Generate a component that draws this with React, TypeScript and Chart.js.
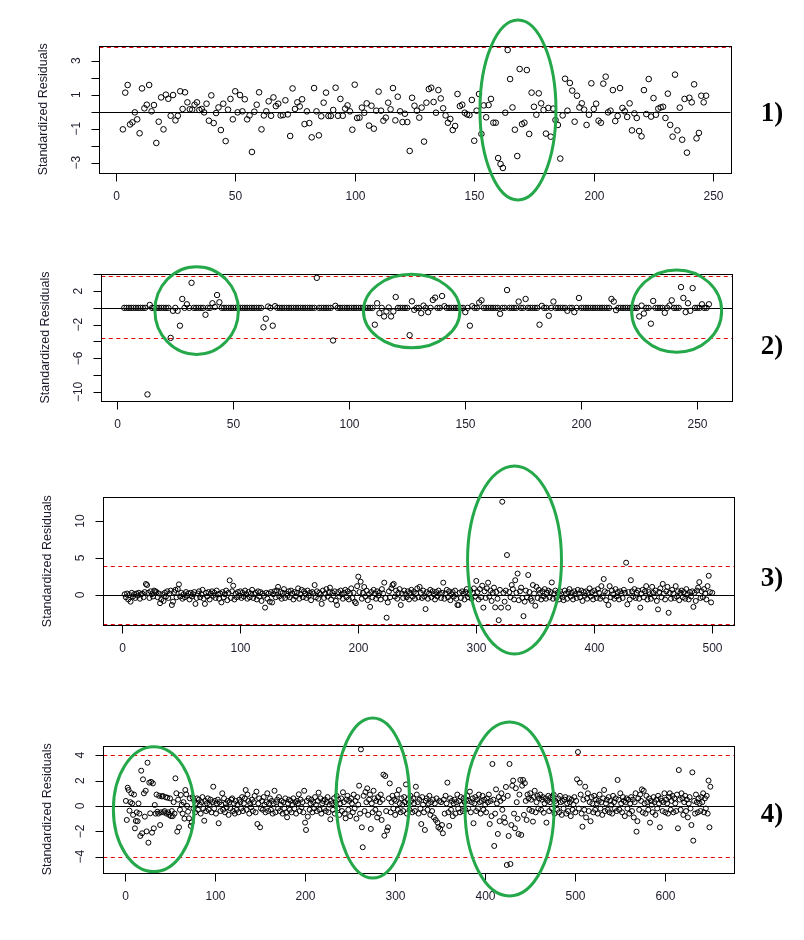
import React, { useEffect, useRef } from 'react';
import { Chart, registerables } from 'chart.js';
Chart.register(...registerables);

// ---------------- DATA ----------------
// Panel 1: standardized residuals, index starts at 3
const P1_START = 3;
const P1_Y = [
  -1.04, 1.12, 1.57, -0.75, -0.63, -0.04, -0.45, -1.27, 1.37, 0.2,
  0.41, 1.57, 0.02, 0.39, -1.84, -0.59, 0.84, -1.04, 1.0, 0.76,
  -0.24, 0.98, -0.51, -0.24, 1.2, 0.16, 1.14, 0.55, 0.14, 0.12,
  0.41, 0.55, 0.1, 0.16, -0.04, 0.47, -0.53, 0.96, -0.67, -0.08,
  0.25, -1.08, 0.47, -1.73, 0.12, 0.75, -0.45, 1.2, -0.04, 0.98,
  0.02, 0.73, -0.45, -0.22, -2.37, 0, 0.41, 1.14, -1.04, -0.22,
  0.02, 0.61, -0.24, 0.84, 0.33, 0.47, -0.22, -0.2, 0.67, -0.16,
  -1.43, 1.37, 0.16, 0.55, 0.31, 0.73, -0.73, 0.02, -0.67, -1.51,
  1.39, 0.02, -1.39, -0.27,
  0.53, 1.12, -0.25, -0.25, 0.1, 1.41, -0.24, 0.75, -0.24, 0.18,
  0.37, 0.02, -1.06, 1.59, -0.37, -0.35, 0.24, -0.06, 0.49, -0.82,
  0.35, -1.0, 0.06, 1.18, 0.06, -0.53, -0.35, 0.53, 0.14, 1.39,
  -0.51, 0.88, 0.02, -0.61, -0.12, -0.61, -2.31, 0.82, 0.35, 0.06,
  -0.35, 0.24, -1.76, 0.53, 1.33, 1.41, 0.57, -0.06, 1.27, 0.78,
  0.2, -0.22, -0.65, -0.43, -1.08, -0.84, 1.04, 0.33, 0.41, -0.06,
  -0.16, -0.2, 0.69, -1.71, 0.06, 1.04, -1.31, 0.37, -0.33, 0.39,
  0.75, -0.65, -0.65, -2.73, -3.08, -3.31, -0.06, 3.63, 1.92, 0.25,
  -1.06, -2.61, 2.51, -0.73, -0.65,
  2.45, -1.31, 1.12, 0.29, -0.18, 1.08, 0.49, 0.1, -1.29, 0.22,
  -1.47, 0.18, -0.49, -0.78, -2.76, -0.22, 1.94, 0.06, 1.69, 1.24,
  -0.59, 0.94, 0.25, 0.49, 0.12, -0.78, -0.18, 1.67, 0.16, 0.47,
  -0.53, -0.65, 1.65, 2.06, -0.04, 0.06, 1.27, -0.55, -0.25, 1.39,
  0.22, 0.02, -0.31, 0.49, -1.1, -0.1, -0.37, -1.14, -1.45, 1.27,
  -0.14, 1.92, -0.29, 0.8, -0.18, 0.18, 0.25, 0.29, -0.37, 1.06,
  -0.78, -1.47, 2.18, -1.1, 0.24, -1.65, 0.75, -2.41, 0.82, 0.55,
  1.61, -1.57, -1.25, 0.94, 0.55, 0.94,
];

// Panel 2: index starts at 3
const P2_START = 3;
const P2_Y = [
  0, 0, 0, 0, 0, 0, 0, 0, 0, 0,
  -10.3, 0.35, 0, 0, 0, 0, 0, 0, 0, 0,
  -3.57, -0.35, 0, -0.35, -2.12, 1.06, 0, 0.43, 0, 2.98,
  0, 0, 0, 0, 0, -0.82, 0, 0, 0.55, 0.1,
  1.53, 0.67, 0, 0, 0, 0, 0, 0, 0, 0,
  0, 0, 0, 0, 0, 0, 0, 0, 0, 0,
  -2.31, -1.29, 0.16, 0, -2.12, 0.2, 0, 0, 0, 0,
  0, 0, 0, 0, 0, 0, 0, 0, 0, 0,
  0, 0, 0, 3.57, 0, 0, 0, 0, 0, 0,
  -3.88, 0.24, 0, 0, 0, 0, 0, 0, 0, 0,
  0, 0, 0, 0, 0, 0, 0, 0, -2.0, 0.55,
  -0.63, 0, -1.02, -0.43, 0.04, -1.02, -0.43, 1.29, 0, 0,
  0, 0, 0, -3.25, 0.78, -0.24, 0, 0, -0.63, 0.27,
  0, -0.51, 0, 0.94, 1.22, 0, 0, 1.41, 0.2, 0,
  0, 0, 0, 0, 0, 0, 0, -0.51, 0, -2.12,
  0.2, 0, 0, 0.63, 0.9, 0, 0, 0, 0, 0,
  0, 0, -0.71, 0, 0, 2.12, 0, 0, 0, 0,
  0.75, 0, 0, 1.06, 0, 0, 0, 0, 0, -2.0,
  0.24, 0, 0, -0.94, 0, 0.75, 0, 0, 0, 0,
  0, -0.35, 0, 0, -0.51, 0, 1.18, 0, 0, 0,
  0, 0, 0, 0, 0, 0, 0, 0, 0, 0,
  1.06, 0.75, -0.27, 0, 0, 0, 0, 0, 0, 0,
  0, 0, -1.02, 0.27, -0.67, 0, 0, -1.88, 0.82, 0,
  0, 0, 0, -0.59, 0, 0.27, 0.9, 0, 0, 0,
  2.47, 1.18, -0.51, 0.55, -0.35, 2.35, 0, 0, 0, 0.43,
  0, 0, 0.43,
];

// Panel 3: index starts at 2
const P3_START = 2;
const P3_Y = [
  0.1, -0.3, 0.2, -0.6, 0.0, -0.9, 0.3, -0.2, 0.1, -0.4, 0.2, -0.1, 0.3, -0.5, 0.1, 0.2, -0.3, 0.4, 1.49, 1.35,
  0.3, -0.4, 0.5, 0.1, -0.2, 0.6, 0.5, 0.4, -0.3, 0.2, -1.1, -0.6, 0.1, -0.8, 0.3, -0.2, 0.5, -0.4, 0.2, 0.6,
  -1.35, -0.9, 0.4, 0.7, -0.3, 0.8, 1.44, -0.2, 0.3, -0.5, 0.1, -0.3, 0.4, -0.1, 0.2, -0.6, 0.3, -0.2, 0.1, 0.4,
  -1.2, -0.4, 0.2, 0.5, -0.3, 0.1, 0.7, -0.5, -1.2, 0.3, -0.2, 0.4, -0.6, 0.2, 0.5, -0.1, 0.3, -0.4, 0.6, 0.1,
  -0.5, 0.2, -1.0, 0.4, -0.3, 0.1, 0.6, -0.7, 0.3, 1.98, -0.4, 0.5, 1.26, -0.6, 0.2, -0.3, 0.4, -0.1, 0.5, -0.4,
  0.3, -0.2, 0.6, 0.1, -0.5, 0.4, -0.3, 0.2, 0.7, -0.4, 0.1, 0.3, -0.6, 0.5, -0.2, 0.4, -0.8, 0.2, -0.1, -1.7,
  0.3, -0.5, 0.2, -0.9, 0.4, -1.0, 0.1, 0.5, -0.3, 0.6, 1.1, -0.2, 0.4, -0.5, 0.3, 0.8, -0.4, 0.2, -0.1, 0.5,
  -0.3, 0.6, 0.2, -0.6, 0.4, -0.2, 0.3, 0.9, -0.5, 0.1, 0.7, -0.3, 0.5, 0.2, -0.4, 0.6, -0.1, 0.3, -0.7, 0.4,
  0.2, 1.35, -0.3, 0.5, -0.5, 0.3, 0.1, -1.2, 0.6, -0.4, 0.2, 0.8, -0.2, 0.4, 1.0, -0.6, 0.3, -0.1, 0.5, -0.8,
  -1.35, 0.4, -0.2, 0.6, 0.1, -0.5, 0.3, 0.7, -0.3, 0.5, -0.6, 0.2, 0.9, -0.4, 0.3, -0.9, -1.1, 1.2, 2.48, 0.4,
  1.8, -0.5, 0.3, 1.08, -0.2, 0.6, -0.7, 0.1, -1.6, 0.4, -0.3, 0.7, 0.2, -0.5, 0.5, -0.1, 0.3, -0.6, 0.8, 0.2,
  1.67, -0.4, -3.06, -1.0, 0.5, -0.3, 0.9, 1.35, 1.5, -0.2, 0.6, -0.5, 0.3, 0.8, -1.35, 0.2, -0.4, 0.6, 0.1, -0.3,
  0.5, -0.6, 0.3, 0.7, -0.2, 0.4, -0.5, 0.2, 0.9, -0.3, 1.1, 0.3, -0.4, 0.6, -0.2, -1.9, 0.4, -0.5, 0.2, 0.7,
  -0.3, 0.5, 0.1, -0.6, 0.4, -0.2, 0.6, 0.2, -0.4, 0.3, 1.67, -0.5, 0.2, 0.7, -0.3, 0.5, -0.7, 0.1, 0.4, -0.2,
  0.6, -0.5, -1.35, -1.35, 0.3, -0.4, 0.5, 0.2, -0.6, 0.4, 0.8, -0.3, 0.1, 0.6, -0.5, 0.3, 0.9, -0.2, 1.9, 0.4,
  -0.6, 0.8, -0.3, 1.26, -1.7, 0.5, -0.4, 0.9, 1.67, -0.2, 0.6, -0.8, 0.3, 1.0, -1.67, 0.4, -0.5, -3.4, 0.7, -1.7,
  12.6, 0.3, -0.9, 0.6, 5.4, -1.7, 0.4, -0.3, 1.35, 0.8, -0.6, 2.0, 0.3, 2.9, -0.7, 0.5, 1.0, -0.4, -2.85, -0.9,
  0.6, -0.3, 2.7, 0.4, -0.5, -0.8, 1.35, 0.2, -1.45, 1.1, -0.4, 0.7, 0.3, -0.6, 0.5, -0.2, 0.8, -0.5, 0.3, 0.6,
  -0.3, 0.4, 1.7, -0.5, 0.2, 0.6, -0.4, 0.3, -0.6, 0.5, 0.1, -0.3, -0.7, 0.6, 0.2, -0.5, 0.4, 0.8, -0.2, 0.3,
  -0.6, 0.5, 0.1, -0.4, 0.7, 0.2, -0.3, 0.6, -0.8, 0.4, -0.1, 0.5, -0.5, 0.3, 0.9, -0.2, 0.4, -0.6, 0.6, 0.1,
  -0.4, 0.8, 0.3, -0.5, 1.2, -0.2, 2.16, 0.5, -0.7, 0.3, -1.35, 1.2, -0.3, 0.6, 0.1, -0.5, 0.8, -0.2, 0.4, -0.6,
  0.5, 0.2, -0.4, 0.7, 0.3, 4.37, -1.26, 0.4, -0.6, 2.0, 0.5, -0.2, 0.8, -0.4, 0.3, 0.6, -0.5, -1.7, 0.2, 0.7,
  -0.3, 0.5, 1.2, -0.6, 0.4, 0.1, -0.5, 1.1, 0.3, -0.2, 0.6, -0.8, -1.94, 0.4, 0.9, -0.3, 1.5, 0.2, -0.6, 0.5,
  1.1, -2.4, 0.3, -0.5, 0.7, 0.2, -0.4, 1.2, -0.2, 0.5, -0.7, 0.3, 0.6, -0.3, 0.4, -0.5, 0.8, 0.1, -0.6, 0.4,
  -0.2, 0.5, -1.6, 0.3, -0.8, 0.6, 1.0, 1.75, -0.4, 0.5, -0.3, 0.8, 0.2, -0.6, 1.2, 2.6, 0.4, -1.0, 0.3,
];

// Panel 4: index starts at 1
const P4_START = 1;
const P4_Y = [
  0.4, -1.1, 1.44, 1.26, -0.37, 0.3, 1.0, 0.2, -0.7, 0.9, -1.76, -1.18, -0.5, -1.2, 0.2, -0.6, -2.36, 2.78, -2.15, 2.1,
  1.0, -0.84, 1.2, -2.0, 3.41, -2.89, 1.84, -0.58, 1.9, -2.1, 1.78, -1.76, 0.08, -0.6, 0.9, -0.45, -0.6, 0.8, -1.5, -0.5,
  0.75, 0.79, -0.5, -0.4, 0.7, -0.6, 0.65, -0.5, -0.7, 0.6, -0.8, -0.4, -0.8, 0.3, -0.6, 2.18, 1.0, -2.02, 0.5, -1.68,
  -0.3, 0.87, 0.1, -0.6, 0.3, -1.0, 1.26, 0.92, 0.0, -0.45, -0.97, 0.6, -1.57, -1.31, 0.7, -0.2, 0.4, -0.5, 0.2, 0.6,
  -0.3, 0.5, 0.1, -0.6, 0.3, 0.7, -0.2, -1.16, 0.4, -0.4, 0.2, 0.6, -0.3, 0.1, 0.5, -0.5, 0.3, 1.52, -0.2, 0.4,
  -0.6, 0.2, 0.5, -1.36, 0.3, -0.4, 0.1, 1.0, -0.3, 0.6, -0.5, 0.2, -0.1, 0.4, -0.7, 0.3, -0.2, 0.5, 0.6, -0.4,
  0.2, -0.6, 0.4, -0.3, 0.1, -0.5, 0.5, 0.3, -0.2, 0.7, -0.4, 0.2, 0.6, 1.26, -0.3, 0.9, 0.4, -0.6, 0.2, -0.1,
  0.5, -0.4, 0.3, 0.8, -0.5, 1.13, -1.42, 0.2, 0.6, -1.68, -0.2, 0.4, -0.3, 0.7, 0.1, -0.5, 0.3, 1.0, -0.4, 0.2,
  0.6, -0.3, 0.4, -0.6, 0.2, 1.2, -0.5, 0.3, 0.5, -0.2, 0.7, -0.4, 0.1, 0.4, -0.6, 0.3, -0.2, 0.6, -0.5, -0.89,
  0.2, 0.5, -0.3, 0.4, -0.5, 0.1, 0.6, -0.2, 0.3, -0.6, 0.4, 0.2, 0.92, -0.4, 0.5, -0.1, 0.3, -0.5, 1.2, -1.31,
  -1.89, 0.4, -0.84, 0.6, -0.3, 0.2, 0.5, -0.5, 0.3, -0.2, 0.7, 0.1, -0.4, 0.4, 1.05, -0.3, 0.6, -0.6, 0.2, 0.4,
  -0.2, 0.5, -0.4, 0.3, 0.7, -0.5, 0.1, -1.05, 0.4, 0.2, -0.3, 0.6, -0.6, 0.3, 0.8, -0.2, 0.5, -0.7, 0.2, 0.6,
  -0.4, 1.08, 0.3, -0.6, -0.97, 0.5, 0.8, -0.3, 0.4, -0.8, 0.6, 0.2, -0.5, 0.9, -0.2, 0.4, -1.0, 0.7, 0.1, 1.6,
  -0.6, 4.46, -1.68, -3.25, 0.8, -0.4, 1.1, 0.3, 1.39, -0.7, 0.5, 0.9, -1.81, 0.2, -0.5, 1.2, 0.6, -0.3, 0.4, -0.9,
  0.7, -0.6, 0.3, 0.9, -1.1, 0.5, 2.47, -2.34, 2.36, -0.4, -1.94, -1.68, 0.6, 1.78, -0.5, 0.3, 0.8, -0.2, 0.5, -0.7,
  0.4, 0.9, -0.3, 1.26, 0.2, -0.5, 0.6, 0.1, -0.4, 0.7, 0.3, 1.7, -0.6, 0.5, 0.2, -0.3, 0.8, 0.4, -0.5, 0.6,
  0.2, -0.4, 1.52, 0.9, 0.3, -0.6, 0.5, -0.2, -1.42, 0.7, 0.1, -0.5, -1.89, 0.4, 0.6, -0.3, 0.2, 0.8, -0.7, 0.3,
  -0.4, 0.5, -0.9, 0.2, -1.1, 0.6, -1.3, -1.68, 0.4, -1.8, 0.3, -1.5, -2.15, 0.5, -0.6, 0.8, 0.2, 1.84, -0.5, -1.57,
  0.6, -0.3, 0.4, -0.8, 0.2, 0.5, -0.6, 0.3, 0.9, -0.2, 0.4, -0.5, 0.7, 0.1, -0.4, 0.6, 0.3, -0.3, 0.5, 0.8,
  -0.2, 0.4, 1.13, -0.5, 0.3, 0.6, -1.36, 0.2, 0.7, -0.4, 0.5, -0.2, 0.9, 0.3, -0.6, 0.4, 0.8, -0.3, 0.5, 0.1,
  -0.5, 0.6, 0.3, 0.9, -1.42, 0.4, -0.8, 3.31, 0.5, -3.15, -0.6, 1.31, 0.2, -2.2, 0.7, -1.2, 0.4, 1.0, -0.3, 0.6,
  -0.9, -1.31, 1.5, -4.65, 0.8, -2.36, 3.31, -4.57, -1.5, 1.6, 2.0, -0.6, -1.76, 1.4, 0.3, -1.0, -2.2, 0.9, 2.05, -2.28,
  1.6, 2.05, -0.7, 1.8, 0.4, -1.1, 0.9, 0.6, -0.3, 1.0, 0.5, -0.4, -1.23, 0.7, 1.2, -0.5, 0.3, 0.8, -0.2, 0.6,
  0.9, -0.3, 0.5, 0.7, -0.53, 0.2, 0.6, -1.31, 0.4, 0.8, -0.4, 0.3, 0.7, -0.2, 0.5, 0.9, -0.6, 0.4, 0.2, -0.3,
  0.6, -0.5, 0.8, 0.3, -0.7, 0.4, -0.2, 0.5, 0.7, -0.6, 0.2, -0.4, 0.6, 0.3, -0.8, 0.5, -0.3, 0.1, 0.7, -0.5,
  0.4, 2.1, 4.25, -0.2, 1.84, 0.9, -0.6, -1.63, 0.5, -0.3, 1.52, -0.9, 0.6, 1.0, -0.4, 0.3, -1.2, 0.7, 0.2, -0.5,
  0.8, -0.3, 0.5, 0.2, -0.6, 0.4, 0.9, -0.2, 0.3, -0.7, 0.6, 1.26, -0.4, 0.2, 0.5, -0.3, 0.7, -0.5, 0.4, 0.1,
  -0.6, 0.8, 0.3, -0.2, 0.6, -0.4, 2.05, 0.5, -0.3, 1.0, 0.2, -0.5, 0.7, 0.4, -0.8, 0.3, 0.6, -0.2, 0.5, -0.6,
  0.2, 0.7, -0.4, 0.5, -0.9, 0.3, 1.0, -2.02, -1.2, 0.6, -0.3, 0.9, 0.4, 1.31, -0.5, 1.2, 0.2, -0.6, 0.8, 0.3,
  -0.3, 0.6, -1.31, 0.4, 0.1, -0.5, 0.7, 0.3, -0.7, 0.5, -0.2, 0.8, 0.2, -1.68, 0.6, 0.4, -0.4, 0.3, 1.0, -0.5,
  0.5, 0.2, -0.6, 0.7, 1.0, -0.3, 0.4, 0.8, -0.5, 0.6, 0.2, -0.4, 0.9, -1.76, 2.83, 0.5, -0.3, 1.0, 0.6, -0.7,
  0.3, 0.8, -0.4, 0.5, -0.9, 0.2, 0.7, -0.2, -1.5, 2.65, -2.73, 0.4, -0.6, 0.9, 0.3, -0.5, 0.6, 0.2, -0.4, 0.7,
  0.3, 1.0, -0.5, 0.6, -0.2, 0.8, -0.6, 2.0, -1.68, 1.52,
];

// Tick values
const P1_XTICKS = [0, 50, 100, 150, 200, 250];
const P1_YTICKS = [-3, -2, -1, 0, 1, 2, 3];
const P1_YLABELS = [-3, -1, 1, 3];
const P2_XTICKS = [0, 50, 100, 150, 200, 250];
const P2_YTICKS = [-10, -8, -6, -4, -2, 0, 2, 4];
const P2_YLABELS = [-10, -6, -2, 2];
const P3_XTICKS = [0, 100, 200, 300, 400, 500];
const P3_YTICKS = [0, 5, 10];
const P3_YLABELS = [0, 5, 10];
const P4_XTICKS = [0, 100, 200, 300, 400, 500, 600];
const P4_YTICKS = [-4, -2, 0, 2, 4];
const P4_YLABELS = [-4, -2, 0, 2, 4];

// Reference lines (red dashed bounds)
const P1_BOUNDS = [3.82, -3.82];
const P2_BOUNDS = [3.79, -3.6];
const P3_BOUNDS = [3.94, -3.94];
const P4_BOUNDS = [4, -4];

// Highlight ellipses in data units: [cx, cy, rx, ry]
const P1_ELLIPSES = [[168.3, 0.1, 15.9, 5.29]];
const P2_ELLIPSES = [[34.2, -0.32, 18.0, 5.22], [126.9, -0.38, 20.8, 4.37], [241.1, -0.38, 19.4, 4.89]];
const P3_ELLIPSES = [[332.4, 4.73, 39.8, 12.7]];
const P4_ELLIPSES = [[31.9, -0.25, 44.8, 4.92], [275.1, 0.63, 40.8, 6.3], [427, -0.24, 49.4, 6.85]];

const PANEL_LABELS = ['1)', '2)', '3)', '4)'];
const Y_TITLE = 'Standardized Residuals';

// ---------------- LAYOUT ----------------
const W = 804;
const H = 940;
const TEXT = '#1c1c2c';
const GREEN = '#25a84a';
const RED = '#e60000';

type Panel = {
  start: number; ys: number[];
  area: { l: number; r: number; t: number; b: number };
  xr: [number, number]; yr: [number, number];
  xTicks: number[]; yTicks: number[]; yLabels: number[];
  bounds: number[]; ellipses: number[][];
  label: string; labelPos: [number, number]; radius: number;
};

const PANELS: Panel[] = [
  { start: P1_START, ys: P1_Y, area: { l: 99.3, r: 730.7, t: 46, b: 172.7 }, xr: [-6.86, 257.3], yr: [-3.59, 3.865],
    xTicks: P1_XTICKS, yTicks: P1_YTICKS, yLabels: P1_YLABELS, bounds: P1_BOUNDS, ellipses: P1_ELLIPSES,
    label: PANEL_LABELS[0], labelPos: [772, 114], radius: 2.8 },
  { start: P2_START, ys: P2_Y, area: { l: 101.3, r: 732.3, t: 274, b: 401 }, xr: [-6.9, 265.1], yr: [-11.08, 4.03],
    xTicks: P2_XTICKS, yTicks: P2_YTICKS, yLabels: P2_YLABELS, bounds: P2_BOUNDS, ellipses: P2_ELLIPSES,
    label: PANEL_LABELS[1], labelPos: [772, 347], radius: 2.7 },
  { start: P3_START, ys: P3_Y, area: { l: 103.3, r: 734, t: 497.3, b: 625 }, xr: [-16.1, 518.4], yr: [-4.05, 13.2],
    xTicks: P3_XTICKS, yTicks: P3_YTICKS, yLabels: P3_YLABELS, bounds: P3_BOUNDS, ellipses: P3_ELLIPSES,
    label: PANEL_LABELS[2], labelPos: [772, 579], radius: 2.5 },
  { start: P4_START, ys: P4_Y, area: { l: 103.3, r: 734.3, t: 745.7, b: 873 }, xr: [-24.1, 676.6], yr: [-5.28, 4.75],
    xTicks: P4_XTICKS, yTicks: P4_YTICKS, yLabels: P4_YLABELS, bounds: P4_BOUNDS, ellipses: P4_ELLIPSES,
    label: PANEL_LABELS[3], labelPos: [772, 815], radius: 2.5 },
];

const fmt = (v: number) => (v < 0 ? '\u2212' + Math.abs(v) : String(v));

function makePlugin(p: Panel) {
  return {
    id: 'rPanel',
    beforeDatasetsDraw(chart: any) {
      const { ctx, chartArea: a, scales } = chart;
      const y = scales.y;
      ctx.save();
      ctx.beginPath();
      ctx.rect(a.left, a.top, a.right - a.left, a.bottom - a.top);
      ctx.clip();
      // zero line
      const y0 = Math.round(y.getPixelForValue(0)) + 0.5;
      ctx.strokeStyle = '#000';
      ctx.lineWidth = 1;
      ctx.beginPath();
      ctx.moveTo(a.left, y0);
      ctx.lineTo(a.right, y0);
      ctx.stroke();
      // bounds
      ctx.strokeStyle = RED;
      ctx.setLineDash([4, 3.5]);
      p.bounds.forEach((v) => {
        const py = Math.round(y.getPixelForValue(v)) + 0.5;
        ctx.beginPath();
        ctx.moveTo(a.left, py);
        ctx.lineTo(a.right, py);
        ctx.stroke();
      });
      ctx.restore();
    },
    afterDraw(chart: any) {
      const { ctx, chartArea: a, scales } = chart;
      const x = scales.x;
      const y = scales.y;
      ctx.save();
      ctx.strokeStyle = '#000';
      ctx.lineWidth = 1;
      // box
      const L = Math.round(a.left) + 0.5, R = Math.round(a.right) + 0.5;
      const T = Math.round(a.top) + 0.5, B = Math.round(a.bottom) + 0.5;
      ctx.strokeRect(L, T, R - L, B - T);
      ctx.fillStyle = TEXT;
      ctx.font = '12px "Liberation Sans", Arial, sans-serif';
      // x ticks
      ctx.textAlign = 'center';
      ctx.textBaseline = 'middle';
      p.xTicks.forEach((v) => {
        const px = Math.round(x.getPixelForValue(v)) + 0.5;
        ctx.beginPath();
        ctx.moveTo(px, B);
        ctx.lineTo(px, B + 8);
        ctx.stroke();
        ctx.fillText(fmt(v), px, B + 23);
      });
      // y ticks
      p.yTicks.forEach((v) => {
        const py = Math.round(y.getPixelForValue(v)) + 0.5;
        ctx.beginPath();
        ctx.moveTo(L, py);
        ctx.lineTo(L - 8, py);
        ctx.stroke();
      });
      p.yLabels.forEach((v) => {
        const py = y.getPixelForValue(v);
        ctx.save();
        ctx.translate(L - 23, py);
        ctx.rotate(-Math.PI / 2);
        ctx.fillText(fmt(v), 0, 0);
        ctx.restore();
      });
      // y title
      ctx.save();
      ctx.font = '12.5px "Liberation Sans", Arial, sans-serif';
      ctx.translate(L - 56, (a.top + a.bottom) / 2);
      ctx.rotate(-Math.PI / 2);
      ctx.fillText(Y_TITLE, 0, 0);
      ctx.restore();
      // panel label
      ctx.fillStyle = '#000';
      ctx.font = 'bold 27px "Liberation Serif", "Times New Roman", serif';
      ctx.fillText(p.label, p.labelPos[0], p.labelPos[1]);
      // ellipses
      ctx.strokeStyle = GREEN;
      ctx.lineWidth = 3;
      p.ellipses.forEach(([cx, cy, rx, ry]) => {
        const pcx = x.getPixelForValue(cx);
        const pcy = y.getPixelForValue(cy);
        const prx = Math.abs(x.getPixelForValue(cx + rx) - pcx);
        const pry = Math.abs(y.getPixelForValue(cy + ry) - pcy);
        ctx.beginPath();
        ctx.ellipse(pcx, pcy, prx, pry, 0, 0, Math.PI * 2);
        ctx.stroke();
      });
      ctx.restore();
    },
  };
}

function PanelChart({ p }: { p: Panel }) {
  const ref = useRef<HTMLCanvasElement>(null);
  useEffect(() => {
    if (!ref.current) return;
    const data = p.ys.map((v, i) => ({ x: p.start + i, y: v }));
    const chart = new Chart(ref.current, {
      type: 'scatter',
      data: {
        datasets: [{
          data,
          pointStyle: 'circle',
          pointRadius: p.radius,
          pointBorderWidth: 1,
          pointBorderColor: '#000',
          pointBackgroundColor: 'rgba(0,0,0,0)',
          borderColor: '#000',
          backgroundColor: 'rgba(0,0,0,0)',
          showLine: false,
        }],
      },
      options: {
        animation: false,
        responsive: false,
        devicePixelRatio: 1,
        events: [],
        layout: { padding: { left: p.area.l, right: W - p.area.r, top: p.area.t, bottom: H - p.area.b } },
        scales: {
          x: { type: 'linear', min: p.xr[0], max: p.xr[1], display: false },
          y: { type: 'linear', min: p.yr[0], max: p.yr[1], display: false },
        },
        plugins: { legend: { display: false }, tooltip: { enabled: false }, title: { display: false } },
      },
      plugins: [makePlugin(p)],
    });
    return () => chart.destroy();
  }, [p]);
  return (
    <canvas ref={ref} width={W} height={H}
      style={{ position: 'absolute', left: 0, top: 0, width: W, height: H }} />
  );
}

export default function App() {
  return (
    <div style={{ position: 'absolute', left: 0, top: 0, width: W, height: H, background: '#fff', overflow: 'hidden' }}>
      {PANELS.map((p, i) => <PanelChart key={i} p={p} />)}
    </div>
  );
}
